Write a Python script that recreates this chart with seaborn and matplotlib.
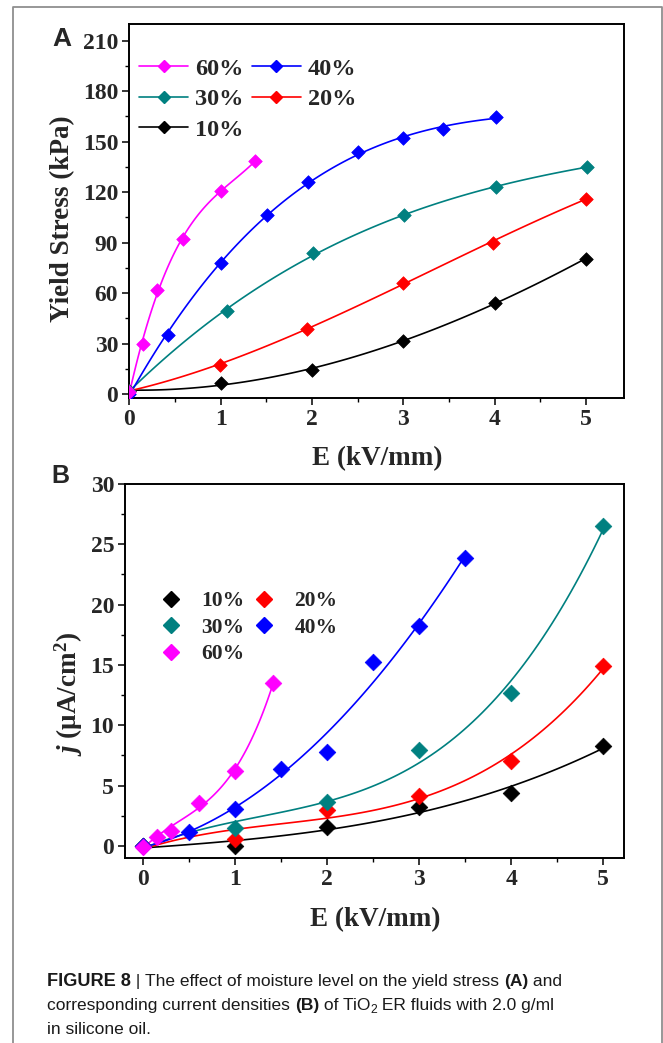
import numpy as np
import matplotlib
matplotlib.use("Agg")
import matplotlib.pyplot as plt
import seaborn as sns
from matplotlib.lines import Line2D
from matplotlib.ticker import MultipleLocator

# ---------------- data ----------------
levels = ["10%", "20%", "30%", "40%", "60%"]
colors = ["#000000", "#FF0000", "#008080", "#0000FF", "#FF00FF"]

# Panel A: yield stress (kPa) vs E (kV/mm)
a_x_10 = [0, 1.00, 2.00, 3.00, 4.00, 5.00]
a_y_10 = [2, 6.3, 14.3, 31.5, 54.3, 80.4]
a_x_20 = [0, 0.99, 1.95, 3.00, 3.98, 5.00]
a_y_20 = [2, 17.4, 38.8, 66.2, 90.0, 116.1]
a_x_30 = [0, 1.07, 2.01, 3.01, 4.02, 5.01]
a_y_30 = [2, 49.5, 83.6, 106.4, 123.0, 135.1]
a_x_40 = [0, 0.42, 1.00, 1.51, 1.96, 2.50, 3.00, 3.44, 4.01]
a_y_40 = [0, 35.3, 77.9, 106.2, 126.0, 143.6, 152.2, 157.7, 164.7]
a_x_60 = [0, 0.15, 0.30, 0.59, 1.00, 1.38]
a_y_60 = [1, 30.0, 61.8, 92.3, 120.9, 138.5]

# Panel B: current density (uA/cm2) vs E (kV/mm)
b_x_10 = [0, 1, 2, 3, 4, 5]
b_y_10 = [0, 0.0, 1.55, 3.26, 4.36, 8.29]
b_x_20 = [0, 1, 2, 3, 4, 5]
b_y_20 = [0, 0.6, 2.98, 4.14, 7.07, 14.9]
b_x_30 = [0, 1, 2, 3, 4, 5]
b_y_30 = [0, 1.52, 3.65, 7.98, 12.65, 26.55]
b_x_40 = [0, 0.5, 1, 1.5, 2, 2.5, 3, 3.5]
b_y_40 = [0, 1.19, 3.09, 6.38, 7.79, 15.28, 18.2, 23.84]
b_x_60 = [0, 0.15, 0.3, 0.6, 1, 1.41]
b_y_60 = [-0.05, 0.77, 1.27, 3.59, 6.19, 13.48]

a_xticks = [0, 1, 2, 3, 4, 5]
a_yticks = [0, 30, 60, 90, 120, 150, 180, 210]
b_xticks = [0, 1, 2, 3, 4, 5]
b_yticks = [0, 5, 10, 15, 20, 25, 30]

# ---------------- style ----------------
sns.set_theme(style="ticks")
plt.rcParams["font.family"] = ["Liberation Serif", "DejaVu Serif"]
plt.rcParams["font.weight"] = "bold"
plt.rcParams["mathtext.fontset"] = "custom"
plt.rcParams["mathtext.rm"] = "Liberation Serif:bold"
plt.rcParams["mathtext.it"] = "Liberation Serif:italic:bold"
plt.rcParams["mathtext.bf"] = "Liberation Serif:bold"

W, H = 663, 1043
fig = plt.figure(figsize=(W / 100, H / 100), dpi=100)
fig.patch.set_facecolor("white")


def px_axes(left, top, right, bottom):
    return fig.add_axes([left / W, 1 - bottom / H, (right - left) / W, (bottom - top) / H])


axA = px_axes(129.3, 24, 624.3, 397.7)
axB = px_axes(125.3, 484, 624.3, 858.3)

TICK_FS = 17
LAB_FS = 19.5


def style_axes(ax):
    for s in ax.spines.values():
        s.set_linewidth(1.4)
        s.set_color("black")
    ax.tick_params(axis="both", which="major", direction="out", length=5, width=1.1,
                   labelsize=TICK_FS, color="black", pad=3)
    ax.tick_params(axis="both", which="minor", direction="out", length=3, width=1.0, color="black")
    ax.tick_params(top=False, right=False, which="both")
    for lab in ax.get_xticklabels() + ax.get_yticklabels():
        lab.set_fontweight("bold")
    ax.set_facecolor("white")
    ax.grid(False)


# ---------------- Panel A ----------------
a_sets = {
    "10%": (a_x_10, a_y_10, 3),
    "20%": (a_x_20, a_y_20, 3),
    "30%": (a_x_30, a_y_30, 3),
    "40%": (a_x_40, a_y_40, 3),
    "60%": (a_x_60, a_y_60, 3),
}
for lev, col in zip(levels, colors):
    x, y, order = a_sets[lev]
    sns.regplot(x=np.array(x), y=np.array(y), order=order, ci=None, scatter=False,
                truncate=True, ax=axA, line_kws=dict(color=col, lw=1.2))
    sns.scatterplot(x=x, y=y, ax=axA, marker="D", s=48, color=col, edgecolor=col,
                    linewidth=0.5, zorder=4, legend=False)

axA.set_xlim(0, 5.42)
axA.set_ylim(-2.2, 220)
axA.set_xticks(a_xticks)
axA.set_yticks(a_yticks)
axA.xaxis.set_minor_locator(MultipleLocator(0.5))
axA.yaxis.set_minor_locator(MultipleLocator(15))
axA.set_xlabel("E (kV/mm)", fontsize=LAB_FS, fontweight="bold", labelpad=12)
axA.set_ylabel("Yield Stress (kPa)", fontsize=LAB_FS, fontweight="bold")
axA.yaxis.set_label_coords(-0.11, 0.478)
style_axes(axA)

handlesA = {lev: Line2D([], [], color=col, lw=1.2, marker="D", markersize=6.5,
                        markeredgecolor=col) for lev, col in zip(levels, colors)}
order_A = ["60%", "30%", "10%", "40%", "20%"]
legA = axA.legend([handlesA[k] for k in order_A], order_A, ncol=2, frameon=False,
                  loc="upper left", bbox_to_anchor=(0.02, 0.91), borderpad=0,
                  borderaxespad=0, handlelength=2.0, handletextpad=0.3,
                  columnspacing=0.35, labelspacing=0.35,
                  prop=dict(family="Liberation Serif", weight="bold", size=17.5))

# ---------------- Panel B ----------------
b_sets = {
    "10%": (b_x_10, b_y_10, 3),
    "20%": (b_x_20, b_y_20, 3),
    "30%": (b_x_30, b_y_30, 3),
    "40%": (b_x_40, b_y_40, 2),
    "60%": (b_x_60, b_y_60, 3),
}
for lev, col in zip(levels, colors):
    x, y, order = b_sets[lev]
    sns.regplot(x=np.array(x), y=np.array(y), order=order, ci=None, scatter=False,
                truncate=True, ax=axB, line_kws=dict(color=col, lw=1.2))
for lev, col in zip(levels, colors):
    x, y, order = b_sets[lev]
    sns.scatterplot(x=x, y=y, ax=axB, marker="D", s=72, color=col, edgecolor=col,
                    linewidth=0.5, zorder=4, legend=False)

axB.set_xlim(-0.196, 5.23)
axB.set_ylim(-1.02, 30)
axB.set_xticks(b_xticks)
axB.set_yticks(b_yticks)
axB.xaxis.set_minor_locator(MultipleLocator(0.5))
axB.yaxis.set_minor_locator(MultipleLocator(2.5))
axB.set_xlabel("E (kV/mm)", fontsize=LAB_FS, fontweight="bold", labelpad=12)
axB.set_ylabel(r"$j$ (μA/cm$^{2}$)", fontsize=LAB_FS, fontweight="bold")
axB.yaxis.set_label_coords(-0.081, 0.44)
style_axes(axB)

handlesB = {lev: Line2D([], [], ls="none", marker="D", markersize=8.5,
                        color=col, markeredgecolor=col) for lev, col in zip(levels, colors)}
order_B = ["10%", "30%", "60%", "20%", "40%"]
legB = axB.legend([handlesB[k] for k in order_B], order_B, ncol=2, frameon=False,
                  loc="upper left", bbox_to_anchor=(0.071, 0.714), borderpad=0,
                  borderaxespad=0, handlelength=1.0, handletextpad=0.9,
                  columnspacing=0.4, labelspacing=0.3,
                  prop=dict(family="Liberation Serif", weight="bold", size=15.5))

# ---------------- panel letters ----------------
fig.text(52 / W, 1 - 45.7 / H, "A", family="Liberation Sans", weight="bold",
         fontsize=19, va="baseline", ha="left")
fig.text(51.7 / W, 1 - 483 / H, "B", family="Liberation Sans", weight="bold",
         fontsize=18, va="baseline", ha="left")

# ---------------- outer frame ----------------
x0, x1 = 12.5 / W, 661.5 / W
yt = 1 - 6.5 / H
fig.add_artist(Line2D([x0, x0, x1, x1], [-0.01, yt, yt, -0.01], transform=fig.transFigure,
                      color="#8f8f8f", lw=1.3))

# ---------------- caption ----------------
fig.canvas.draw()
renderer = fig.canvas.get_renderer()
CAP_FS = 12.5
CAP_COLOR = "#1a1a1a"


def rich_line(x_px, base_px, segments):
    x = x_px
    for txt, weight, dy, fs in segments:
        t = fig.text(x / W, 1 - (base_px + dy) / H, txt, family="Liberation Sans",
                     fontweight=weight, fontsize=fs, color=CAP_COLOR, va="baseline", ha="left")
        bb = t.get_window_extent(renderer=renderer)
        x += bb.width


rich_line(47, 986, [("FIGURE 8", "bold", 0, CAP_FS + 0.6), (" | ", "normal", 0, CAP_FS),
                    ("The effect of moisture level on the yield stress ", "normal", 0, CAP_FS),
                    ("(A)", "bold", 0, CAP_FS), (" and", "normal", 0, CAP_FS)])
rich_line(47, 1010, [("corresponding current densities ", "normal", 0, CAP_FS),
                     ("(B)", "bold", 0, CAP_FS), (" of TiO", "normal", 0, CAP_FS),
                     ("2", "normal", 3, CAP_FS * 0.7),
                     (" ER fluids with 2.0 g/ml", "normal", 0, CAP_FS)])
rich_line(47, 1034, [("in silicone oil.", "normal", 0, CAP_FS)])

fig.savefig("out.png", dpi=100, facecolor="white")
